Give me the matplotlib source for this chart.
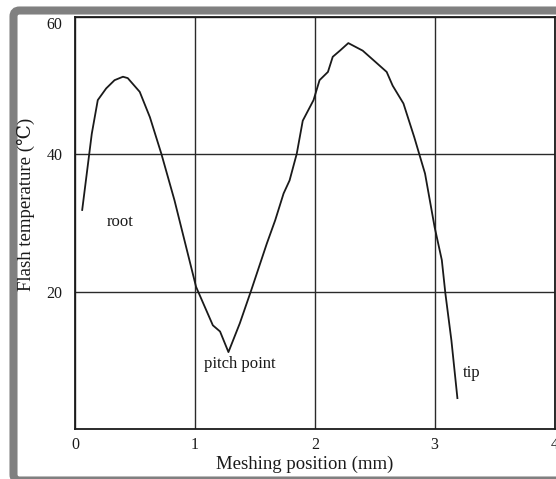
import matplotlib.pyplot as plt
from matplotlib.patches import FancyBboxPatch

# flash temperature along the path of contact, read point by point
position_mm = [0.06, 0.14, 0.19, 0.26, 0.33, 0.40, 0.44, 0.54, 0.625, 0.72,
               0.83, 1.01, 1.15, 1.21, 1.28, 1.375, 1.47, 1.60, 1.67, 1.74,
               1.79, 1.85, 1.90, 1.99, 2.04, 2.11, 2.15, 2.21, 2.28, 2.40,
               2.51, 2.60, 2.65, 2.74, 2.83, 2.92, 3.00, 3.06, 3.09, 3.14,
               3.19]
flash_temp = [31.9, 43.0, 47.9, 49.6, 50.8, 51.3, 51.1, 49.1, 45.4, 40.1,
              33.3, 20.7, 15.1, 14.2, 11.2, 15.4, 20.2, 27.0, 30.4, 34.3,
              36.2, 40.1, 44.9, 47.9, 50.8, 52.0, 54.2, 55.1, 56.2, 55.1,
              53.4, 52.0, 50.0, 47.4, 42.5, 37.2, 29.4, 24.6, 19.7, 12.9,
              4.5]

x_ticks = [0, 1, 2, 3, 4]
y_ticks = [20, 40, 60]
notes = [("root", 0.375, 30.1), ("pitch point", 1.375, 9.4), ("tip", 3.31, 8.1)]

W, H, DPI = 556, 479, 100
INK = "#1a1a1a"
FRAME = "#808080"
SERIF = ["Liberation Serif", "DejaVu Serif"]

fig = plt.figure(figsize=(W / DPI, H / DPI), dpi=DPI)

# grey picture frame, open on the right, kept behind the axes
frame = FancyBboxPatch((13.5 / DPI, -1.5 / DPI), 700 / DPI, (H - 10.5 + 1.5) / DPI,
                       boxstyle="round,pad=0,rounding_size=0.06",
                       transform=fig.dpi_scale_trans, facecolor="white",
                       edgecolor=FRAME, linewidth=5.8, zorder=-5)
fig.patches.append(frame)

ax = fig.add_axes([75 / W, 1 - 429 / H, (554.5 - 75) / W, (429 - 17) / H])
ax.set_facecolor("none")
ax.set_zorder(2)

ax.plot(position_mm, flash_temp, color=INK, lw=1.3, zorder=3)

ax.set_xlim(0, 4)
ax.set_ylim(0, 60)
ax.set_xticks(x_ticks)
ax.set_yticks(y_ticks)
ax.tick_params(length=0, labelsize=11.5, labelcolor=INK)
ax.tick_params(axis="x", pad=6)
ax.tick_params(axis="y", pad=9)
for lab in ax.get_xticklabels() + ax.get_yticklabels():
    lab.set_family(SERIF)
# the top label sits a little below the frame line
ax.get_yticklabels()[-1].set_verticalalignment("top")

ax.grid(True, color="#2a2a2a", lw=1.0)
for s in ax.spines.values():
    s.set_color(INK)
    s.set_linewidth(1.3)

ax.set_xlabel("Meshing position (mm)", family=SERIF, fontsize=13.5, color=INK)
ax.set_ylabel("Flash temperature (\u2103)", family=SERIF, fontsize=13.5, color=INK)
ax.xaxis.set_label_coords(0.479, -0.065)
ax.yaxis.set_label_coords(-0.083, 0.546)

for txt, xv, yv in notes:
    ax.text(xv, yv, txt, family=SERIF, fontsize=12, color=INK,
            ha="center", va="center")

fig.savefig("out.png", dpi=DPI)
